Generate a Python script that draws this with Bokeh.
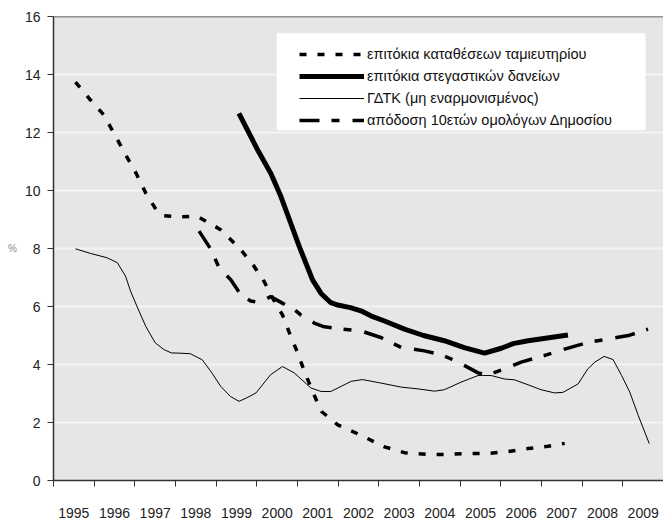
from bokeh.plotting import figure
from bokeh.models import (Range1d, FixedTicker, Span, BoxAnnotation, Legend,
                          LegendItem, CustomJSTickFormatter)
from bokeh.embed import file_html
from bokeh.resources import INLINE

years = list(range(1995, 2010))
y_ticks = [0, 2, 4, 6, 8, 10, 12, 14, 16]

labels = ["επιτόκια καταθέσεων ταμιευτηρίου",
          "επιτόκια στεγαστικών δανείων",
          "ΓΔΤΚ (μη εναρμονισμένος)",
          "απόδοση 10ετών ομολόγων Δημοσίου"]

savings_x = [1995.54, 1995.91, 1996.24, 1996.53, 1996.8, 1997.04, 1997.27, 1997.55, 1997.72,
             1998.13, 1998.54, 1999.11, 1999.6, 1999.93, 2000.18, 2000.39, 2000.63, 2000.82,
             2000.99, 2001.17, 2001.37, 2001.59, 2001.99, 2002.56, 2003.14, 2003.63, 2004.16,
             2004.7, 2005.19, 2005.68, 2006.18, 2006.67, 2007.16, 2007.57]
savings_y = [13.74, 13.12, 12.6, 11.86, 11.17, 10.57, 9.91, 9.28, 9.13,
             9.09, 9.11, 8.65, 7.97, 7.39, 6.86, 6.29, 5.71, 5.02,
             4.45, 3.76, 3.07, 2.38, 1.92, 1.56, 1.16, 0.96, 0.9,
             0.9, 0.93, 0.93, 1.0, 1.1, 1.18, 1.28]

mortgage_x = [1999.56, 2000.0, 2000.34, 2000.59, 2000.8, 2001.04, 2001.37, 2001.58, 2001.82,
              2001.99, 2002.3, 2002.56, 2002.85, 2003.14, 2003.63, 2004.1, 2004.61, 2005.1,
              2005.6, 2006.01, 2006.3, 2006.67, 2007.65]
mortgage_y = [12.66, 11.45, 10.6, 9.8, 9.0, 8.08, 6.92, 6.45, 6.13,
              6.05, 5.96, 5.85, 5.65, 5.5, 5.22, 5.0, 4.82, 4.58,
              4.39, 4.56, 4.72, 4.82, 5.02]

cpi_x = [1995.54, 1995.91, 1996.32, 1996.57, 1996.77, 1996.9, 1997.06, 1997.27, 1997.5,
         1997.72, 1997.9, 1998.13, 1998.37, 1998.66, 1998.9, 1999.11, 1999.35, 1999.56,
         1999.75, 1999.98, 2000.34, 2000.63, 2000.92, 2001.33, 2001.58, 2001.82, 2002.32,
         2002.6, 2003.05, 2003.55, 2003.96, 2004.37, 2004.61, 2005.02, 2005.44, 2005.76,
         2006.09, 2006.34, 2006.67, 2006.99, 2007.32, 2007.53, 2007.9, 2008.14, 2008.31,
         2008.54, 2008.76, 2008.97, 2009.17, 2009.38, 2009.65]
cpi_y = [7.99, 7.83, 7.68, 7.51, 7.05, 6.51, 5.98, 5.31, 4.75,
         4.51, 4.4, 4.39, 4.37, 4.16, 3.7, 3.25, 2.9, 2.73,
         2.85, 3.02, 3.65, 3.93, 3.71, 3.19, 3.07, 3.07, 3.42,
         3.48, 3.36, 3.22, 3.16, 3.08, 3.13, 3.39, 3.62, 3.62,
         3.5, 3.47, 3.3, 3.13, 3.02, 3.04, 3.33, 3.85, 4.08,
         4.28, 4.17, 3.62, 3.05, 2.24, 1.27]

bond_x = [1998.58, 1998.87, 1999.07, 1999.36, 1999.61, 1999.85, 2000.05, 2000.34, 2000.65,
          2000.92, 2001.08, 2001.41, 2001.66, 2002.11, 2002.56, 2003.05, 2003.55, 2004.12,
          2004.53, 2004.78, 2005.11, 2005.44, 2005.68, 2006.09, 2006.5, 2007.12, 2007.57,
          2008.14, 2008.64, 2009.17, 2009.62]
bond_y = [8.6, 7.97, 7.34, 6.92, 6.4, 6.19, 6.14, 6.34, 6.1,
          5.9, 5.71, 5.43, 5.3, 5.22, 5.16, 4.93, 4.59, 4.47,
          4.34, 4.19, 3.96, 3.71, 3.64, 3.85, 4.08, 4.33, 4.53,
          4.76, 4.88, 5.01, 5.22]

FONT = "Liberation Sans"

p = figure(width=663, height=520, output_backend="svg", toolbar_location=None,
           x_range=Range1d(1995, 2010), y_range=Range1d(0, 16),
           min_border_left=53, min_border_right=0, min_border_top=16, min_border_bottom=39,
           background_fill_color="#e6e6e6", border_fill_color="white",
           outline_line_color=None)

# x axis: labels at year centres, ticks at year boundaries
p.xaxis.ticker = FixedTicker(ticks=[y + 0.5 for y in years], minor_ticks=years + [2010])
p.xaxis.formatter = CustomJSTickFormatter(code="return String(Math.floor(tick));")
p.xaxis.major_tick_out = 0
p.xaxis.major_tick_in = 0
p.xaxis.minor_tick_out = 6
p.xaxis.minor_tick_in = 0
p.xaxis.minor_tick_line_color = "#333333"
p.xaxis.major_label_standoff = 21
p.xgrid.visible = False

p.yaxis.ticker = FixedTicker(ticks=y_ticks, minor_ticks=[])
p.yaxis.major_tick_out = 6
p.yaxis.major_tick_in = 0
p.yaxis.minor_tick_out = 0
p.yaxis.minor_tick_in = 0
p.yaxis.major_label_standoff = 7
p.yaxis.axis_label = "%"
p.yaxis.axis_label_orientation = "horizontal"
p.yaxis.axis_label_text_font_size = "10px"
p.yaxis.axis_label_text_font_style = "normal"
p.yaxis.axis_label_text_color = "#888888"
p.yaxis.axis_label_text_font = FONT
p.yaxis.axis_label_standoff = 5

for ax in (p.xaxis, p.yaxis):
    ax.axis_line_color = "#333333"
    ax.axis_line_width = 1.5
    ax.major_tick_line_color = "#333333"
    ax.major_label_text_font = FONT
    ax.major_label_text_font_size = "14px"
    ax.major_label_text_color = "#222222"

p.ygrid.grid_line_color = "#f4f4f4"
p.ygrid.grid_line_width = 2

p.add_layout(Span(location=16, dimension="width", line_color="#333333", line_width=1.5))

r_sav = p.line(savings_x, savings_y, line_color="black", line_width=3.5, line_dash="7 11")
r_mor = p.line(mortgage_x, mortgage_y, line_color="black", line_width=5)
r_cpi = p.line(cpi_x, cpi_y, line_color="black", line_width=1)
r_bond = p.line(bond_x, bond_y, line_color="black", line_width=3.5, line_dash="20 12 8 13")

p.add_layout(BoxAnnotation(left=2000.49, right=2009.56, bottom=12.08, top=15.42,
                           fill_color="white", fill_alpha=1.0, line_color=None))

legend = Legend(items=[LegendItem(label=labels[0], renderers=[r_sav]),
                       LegendItem(label=labels[1], renderers=[r_mor]),
                       LegendItem(label=labels[2], renderers=[r_cpi]),
                       LegendItem(label=labels[3], renderers=[r_bond])],
                location=(246, 350), glyph_width=65, glyph_height=20, label_height=20,
                spacing=2, padding=6, margin=0, label_standoff=3,
                label_text_font=FONT, label_text_font_size="14.5px",
                label_text_color="#111111",
                background_fill_alpha=0, border_line_color=None)
p.add_layout(legend)

open("out.html", "w").write(file_html(p, INLINE))
